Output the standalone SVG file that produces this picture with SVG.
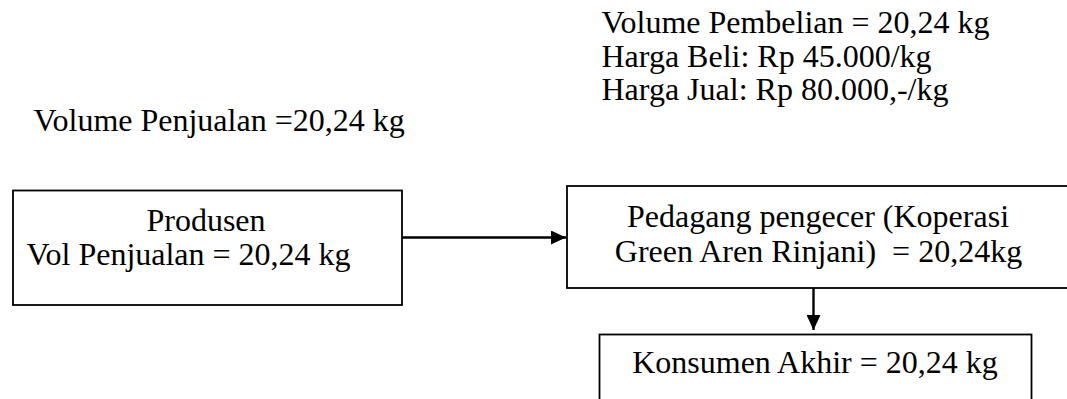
<svg xmlns="http://www.w3.org/2000/svg" width="1067" height="399" viewBox="0 0 1067 399">
  <style>
    text { font-family: "Liberation Serif", "Times New Roman", serif; font-size: 32px; fill: #000; white-space: pre; }
    .box { fill: #fff; stroke: #000; stroke-width: 1.8; }
    .conn { stroke: #000; stroke-width: 2.4; fill: none; }
  </style>
  <defs>
    <marker id="arrow" markerUnits="userSpaceOnUse" markerWidth="16" markerHeight="14" refX="15" refY="7" orient="auto">
      <path d="M0,0 L15,7 L0,14 Z" fill="#000"/>
    </marker>
  </defs>
  <rect width="1067" height="399" fill="#fff"/>

  <g id="label-pembelian">
    <text x="601.5" y="33">Volume Pembelian = 20,24 kg</text>
    <text x="601.5" y="66.5">Harga Beli: Rp 45.000/kg</text>
    <text x="601.5" y="100">Harga Jual: Rp 80.000,-/kg</text>
  </g>

  <g id="label-penjualan">
    <text x="33.5" y="131">Volume Penjualan =20,24 kg</text>
  </g>

  <g id="connectors">
    <line class="conn" x1="402" y1="237.5" x2="566" y2="237.5" marker-end="url(#arrow)"/>
    <line class="conn" x1="813.5" y1="288" x2="813.5" y2="330" marker-end="url(#arrow)"/>
  </g>

  <g id="node-produsen">
    <rect class="box" x="13" y="190.5" width="389" height="114.5"/>
    <text x="206" y="230.5" text-anchor="middle">Produsen</text>
    <text x="26.5" y="265">Vol Penjualan = 20,24 kg</text>
  </g>

  <g id="node-pedagang">
    <rect class="box" x="567" y="186" width="505" height="102"/>
    <text x="818" y="226.5" text-anchor="middle">Pedagang pengecer (Koperasi</text>
    <text x="818.5" y="261.5" text-anchor="middle">Green Aren Rinjani)  = 20,24kg</text>
  </g>

  <g id="node-konsumen">
    <rect class="box" x="599.5" y="334.5" width="432" height="80"/>
    <text x="815" y="373" text-anchor="middle">Konsumen Akhir = 20,24 kg</text>
  </g>
</svg>
